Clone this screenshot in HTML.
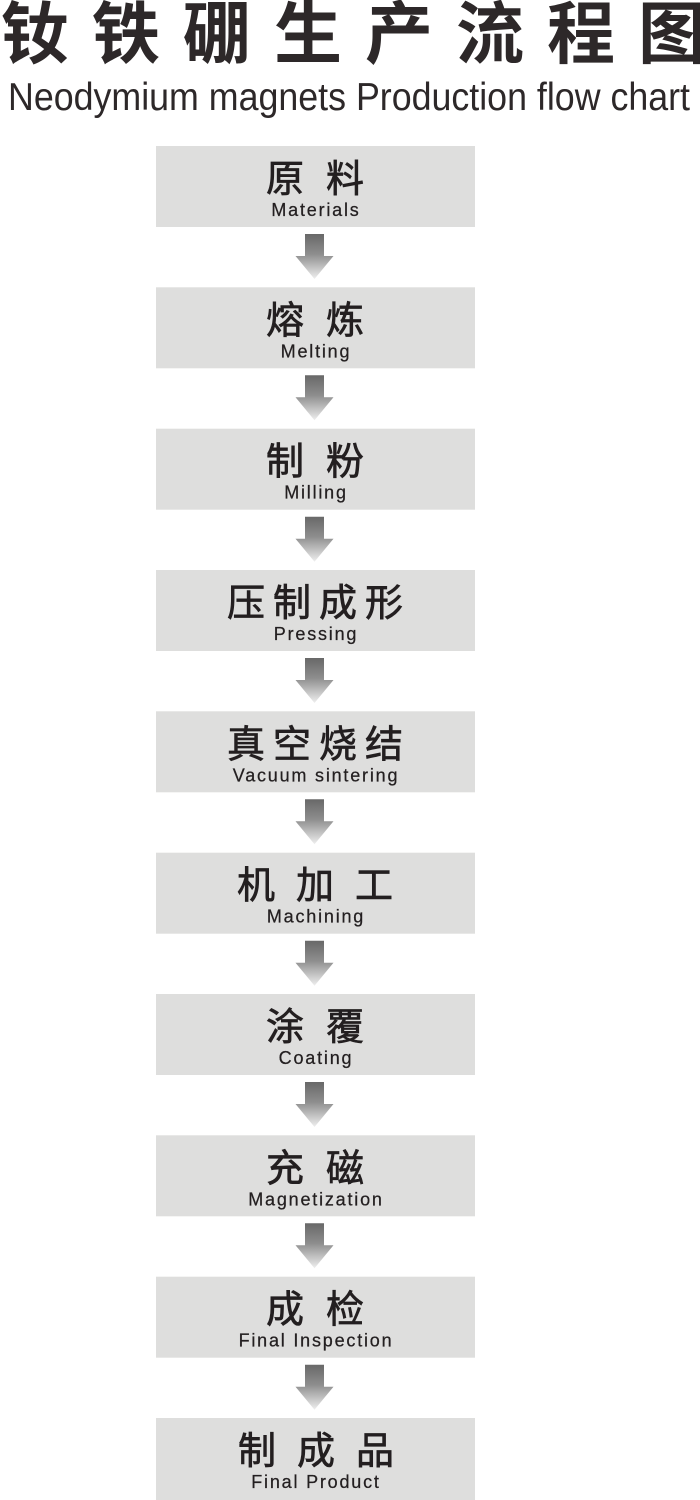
<!DOCTYPE html>
<html>
<head>
<meta charset="utf-8">
<style>
html,body{margin:0;padding:0;background:#fff;}
body{width:700px;height:1500px;overflow:hidden;}
svg{display:block;}
.cn{font-family:"Liberation Sans","Noto Sans CJK SC","WenQuanYi Zen Hei",sans-serif;font-size:38px;fill:#231f20;stroke:#231f20;stroke-width:0.7px;text-anchor:middle;}
.en{font-family:"Liberation Sans",Arial,sans-serif;font-size:18px;fill:#231f20;stroke:#231f20;stroke-width:0.25px;text-anchor:middle;letter-spacing:1.8px;}
.tcn{font-family:"Liberation Sans","Noto Sans CJK SC","WenQuanYi Zen Hei",sans-serif;font-size:68px;font-weight:bold;fill:#2d2829;text-anchor:middle;}
.ten{font-family:"Liberation Sans",Arial,sans-serif;font-size:39px;fill:#2d2829;}
</style>
</head>
<body>
<svg width="700" height="1500" viewBox="0 0 700 1500" xmlns="http://www.w3.org/2000/svg">
<defs>
<linearGradient id="ag" x1="0" y1="0" x2="0" y2="1">
<stop offset="0" stop-color="#686868"/>
<stop offset="0.45" stop-color="#8e8e8e"/>
<stop offset="1" stop-color="#efefef"/>
</linearGradient>
</defs>

<!-- Title -->
<text class="tcn" y="58"><tspan x="35">钕</tspan><tspan x="126">铁</tspan><tspan x="217">硼</tspan><tspan x="308">生</tspan><tspan x="399">产</tspan><tspan x="490">流</tspan><tspan x="581">程</tspan><tspan x="672">图</tspan></text>
<text class="ten" x="8" y="110" textLength="682" lengthAdjust="spacingAndGlyphs">Neodymium magnets Production flow chart</text>

<!-- Boxes -->
<g fill="#dededd">
<rect x="156" y="146" width="319" height="81"/>
<rect x="156" y="287.3" width="319" height="81"/>
<rect x="156" y="428.7" width="319" height="81"/>
<rect x="156" y="570" width="319" height="81"/>
<rect x="156" y="711.3" width="319" height="81"/>
<rect x="156" y="852.7" width="319" height="81"/>
<rect x="156" y="994" width="319" height="81"/>
<rect x="156" y="1135.3" width="319" height="81"/>
<rect x="156" y="1276.7" width="319" height="81"/>
<rect x="156" y="1418" width="319" height="82"/>
</g>

<!-- Arrows -->
<g fill="url(#ag)">
<polygon points="305,234 324,234 324,256 333.5,256 314.5,279 295.5,256 305,256"/>
<polygon points="305,375.3 324,375.3 324,397.3 333.5,397.3 314.5,420.3 295.5,397.3 305,397.3"/>
<polygon points="305,516.7 324,516.7 324,538.7 333.5,538.7 314.5,561.7 295.5,538.7 305,538.7"/>
<polygon points="305,658 324,658 324,680 333.5,680 314.5,703 295.5,680 305,680"/>
<polygon points="305,799.3 324,799.3 324,821.3 333.5,821.3 314.5,844.3 295.5,821.3 305,821.3"/>
<polygon points="305,940.7 324,940.7 324,962.7 333.5,962.7 314.5,985.7 295.5,962.7 305,962.7"/>
<polygon points="305,1082 324,1082 324,1104 333.5,1104 314.5,1127 295.5,1104 305,1104"/>
<polygon points="305,1223.3 324,1223.3 324,1245.3 333.5,1245.3 314.5,1268.3 295.5,1245.3 305,1245.3"/>
<polygon points="305,1364.7 324,1364.7 324,1386.7 333.5,1386.7 314.5,1409.7 295.5,1386.7 305,1386.7"/>
</g>

<!-- Box labels -->
<text class="cn" y="192"><tspan x="285">原</tspan><tspan x="345">料</tspan></text>
<text class="en" x="316" y="216">Materials</text>

<text class="cn" y="333.3"><tspan x="285">熔</tspan><tspan x="345">炼</tspan></text>
<text class="en" x="316" y="357.3">Melting</text>

<text class="cn" y="474.7"><tspan x="285">制</tspan><tspan x="345">粉</tspan></text>
<text class="en" x="316" y="498.7">Milling</text>

<text class="cn" y="616"><tspan x="246">压</tspan><tspan x="292">制</tspan><tspan x="338">成</tspan><tspan x="384">形</tspan></text>
<text class="en" x="316" y="640">Pressing</text>

<text class="cn" y="757.3"><tspan x="246">真</tspan><tspan x="292">空</tspan><tspan x="338">烧</tspan><tspan x="384">结</tspan></text>
<text class="en" x="316" y="781.3">Vacuum sintering</text>

<text class="cn" y="898.7"><tspan x="256">机</tspan><tspan x="315">加</tspan><tspan x="374">工</tspan></text>
<text class="en" x="316" y="922.7">Machining</text>

<text class="cn" y="1040"><tspan x="285">涂</tspan><tspan x="345">覆</tspan></text>
<text class="en" x="316" y="1064">Coating</text>

<text class="cn" y="1181.3"><tspan x="285">充</tspan><tspan x="345">磁</tspan></text>
<text class="en" x="316" y="1205.3">Magnetization</text>

<text class="cn" y="1322.7"><tspan x="285">成</tspan><tspan x="345">检</tspan></text>
<text class="en" x="316" y="1346.7">Final Inspection</text>

<text class="cn" y="1464"><tspan x="257">制</tspan><tspan x="316">成</tspan><tspan x="375">品</tspan></text>
<text class="en" x="316" y="1488">Final Product</text>
</svg>
</body>
</html>
